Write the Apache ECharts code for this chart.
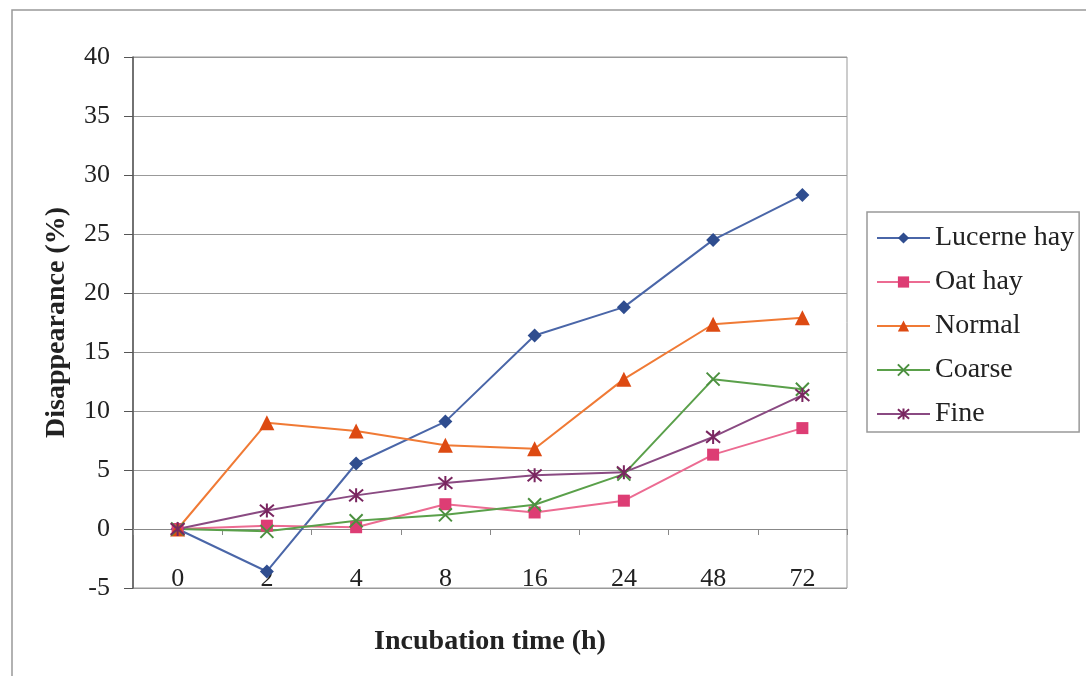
<!DOCTYPE html>
<html>
<head>
<meta charset="utf-8">
<script src="https://cdn.jsdelivr.net/npm/echarts@6/dist/echarts.min.js"></script>
<style>
  html, body { margin: 0; padding: 0; background: #fff; }
  #chart { width: 1086px; height: 676px; }
</style>
</head>
<body>
<div id="chart"></div>
<script>
const hours = ['0', '2', '4', '8', '16', '24', '48', '72'];
const lucerneHay = [0, -3.6, 5.55, 9.1, 16.4, 18.8, 24.5, 28.3];
const oatHay = [0, 0.28, 0.15, 2.1, 1.4, 2.4, 6.3, 8.55];
const normal = [0, 9.0, 8.3, 7.1, 6.8, 12.7, 17.35, 17.9];
const coarse = [0, -0.2, 0.7, 1.2, 2.05, 4.65, 12.7, 11.85];
const fine = [0, 1.56, 2.85, 3.9, 4.55, 4.8, 7.8, 11.35];

const font = 'Liberation Serif, Times New Roman, serif';
const crossPath = 'path://M0,0L10,10M10,0L0,10';
const starPath = 'path://M0,0L10,10M10,0L0,10M5,-1L5,11';

const chart = echarts.init(document.getElementById('chart'));

function line(name, data, color, markColor, symbol, size, stroke) {
    return {
        name: name,
        type: 'line',
        data: data,
        symbol: symbol,
        symbolSize: size,
        lineStyle: { color: color, width: 2 },
        itemStyle: stroke
            ? { color: markColor, borderColor: markColor, borderWidth: 2 }
            : { color: markColor },
        emphasis: { disabled: true },
        animation: false
    };
}

chart.setOption({
    backgroundColor: '#fff',
    textStyle: { fontFamily: font },
    graphic: [{
        type: 'rect',
        shape: { x: 12, y: 10, width: 1200, height: 800 },
        style: { fill: 'none', stroke: '#999', lineWidth: 1.5 }
    }],
    grid: {
        left: 133, right: 239, top: 57, bottom: 88,
        containLabel: false,
        outerBoundsMode: 'none',
        show: true, borderColor: '#999', borderWidth: 1
    },
    legend: {
        orient: 'vertical',
        left: 867, top: 212,
        padding: [12, 5, 4, 9],
        itemGap: 16,
        itemWidth: 53,
        itemHeight: 14,
        borderColor: '#999',
        borderWidth: 1.5,
        textStyle: { fontFamily: font, fontSize: 28, color: '#222' },
        data: ['Lucerne hay', 'Oat hay', 'Normal', 'Coarse', 'Fine']
    },
    xAxis: {
        type: 'category',
        data: hours,
        boundaryGap: true,
        name: 'Incubation time (h)',
        nameLocation: 'middle',
        nameGap: 40,
        nameTextStyle: { fontFamily: font, fontSize: 28, fontWeight: 'bold', color: '#222' },
        axisLine: { onZero: true, lineStyle: { color: '#888', width: 1 } },
        axisTick: { show: true, length: 6, lineStyle: { color: '#888' } },
        axisLabel: { margin: -22, fontFamily: font, fontSize: 26, color: '#222' },
        splitLine: { show: false }
    },
    yAxis: {
        type: 'value',
        min: -5, max: 40, interval: 5,
        name: 'Disappearance (%)',
        nameLocation: 'middle',
        nameGap: 62,
        nameTextStyle: { fontFamily: font, fontSize: 28, fontWeight: 'bold', color: '#222' },
        axisLine: { show: true, lineStyle: { color: '#555', width: 1.5 } },
        axisTick: { show: true, length: 9, lineStyle: { color: '#555' } },
        axisLabel: { margin: 23, fontFamily: font, fontSize: 26, color: '#222' },
        splitLine: { lineStyle: { color: '#999', width: 1 } }
    },
    series: [
        line('Lucerne hay', lucerneHay, '#4a66a8', '#2f4d8f', 'diamond', 14, false),
        line('Oat hay', oatHay, '#ec6b92', '#dd3d74', 'rect', 12, false),
        line('Normal', normal, '#f07a35', '#dd4a12', 'triangle', 15, false),
        line('Coarse', coarse, '#5aa04a', '#4c9040', crossPath, 13, true),
        line('Fine', fine, '#8a4a82', '#7a2660', starPath, 14, true)
    ]
});
</script>
</body>
</html>
